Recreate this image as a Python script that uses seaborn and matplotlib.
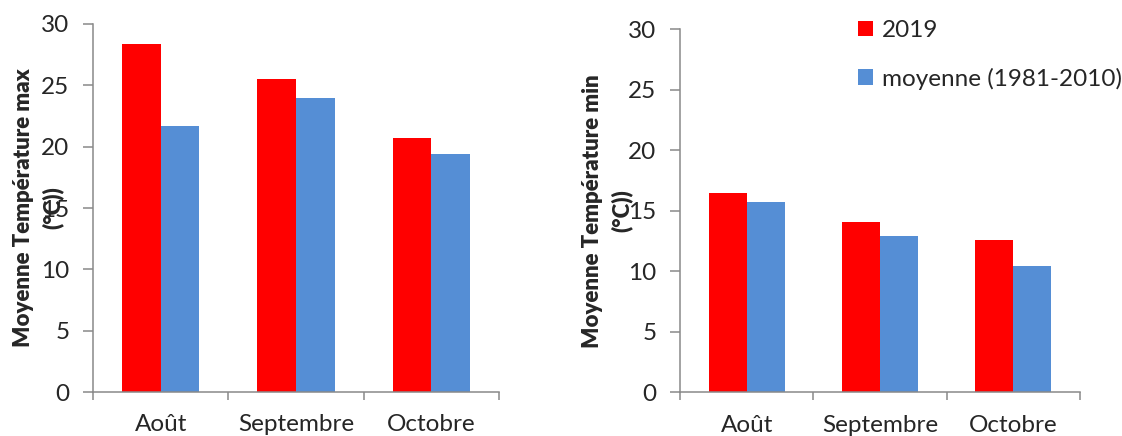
import matplotlib
matplotlib.use("Agg")
import matplotlib.pyplot as plt
import seaborn as sns
import pandas as pd

# Monthly mean temperatures (°C), 2019 vs 1981-2010 normal
mois = ["Août", "Septembre", "Octobre"]
series = ["2019", "moyenne (1981-2010)"]
tmax_2019 = [28.4, 25.5, 20.7]
tmax_normale = [21.7, 24.0, 19.4]
tmin_2019 = [16.5, 14.1, 12.6]
tmin_normale = [15.7, 12.9, 10.4]
yticks = [0, 5, 10, 15, 20, 25, 30]
couleurs = ["#FF0000", "#558ED5"]
gris = "#898989"
taille = 17.5


def tableau(v2019, vnorm):
    return pd.DataFrame({
        "mois": mois * 2,
        "série": [series[0]] * len(mois) + [series[1]] * len(mois),
        "valeur": v2019 + vnorm,
    })


sns.set_theme(style="white")
plt.rcParams["font.family"] = ["Lato", "DejaVu Sans"]

W, H = 1122, 436
fig = plt.figure(figsize=(W / 100, H / 100), dpi=100)


def axes_px(x0, y0, x1, y1):
    return fig.add_axes([x0 / W, 1 - y1 / H, (x1 - x0) / W, (y1 - y0) / H])


def panneau(ax, v2019, vnorm, titre_y, label_x, legende=False):
    sns.barplot(data=tableau(v2019, vnorm), x="mois", y="valeur", hue="série",
                palette=couleurs, saturation=1, width=0.57, linewidth=0,
                ax=ax, legend=legende)
    ax.set_ylim(0, 30)
    ax.set_xlim(-0.5, len(mois) - 0.5)
    ax.set_yticks(yticks)
    ax.set_yticklabels([str(t) for t in yticks], fontsize=taille)
    # boundaries between months carry the visible ticks, labels sit at centres
    ax.set_xticks([i - 0.5 for i in range(len(mois) + 1)])
    ax.set_xticklabels([])
    ax.set_xticks(range(len(mois)), minor=True)
    ax.set_xticklabels(mois, minor=True, fontsize=taille)
    ax.tick_params(axis="x", which="major", direction="out", length=6,
                   width=1.1, color=gris, bottom=True)
    ax.tick_params(axis="x", which="minor", length=0, pad=16, bottom=True)
    ax.tick_params(axis="y", direction="out", length=7, width=1.1,
                   color=gris, pad=10, left=True)
    for s in ("top", "right"):
        ax.spines[s].set_visible(False)
    for s in ("left", "bottom"):
        ax.spines[s].set_color(gris)
        ax.spines[s].set_linewidth(1.1)
    ax.set_xlabel("")
    ax.set_ylabel(titre_y, fontsize=16, fontweight="heavy", linespacing=1.45)
    ax.yaxis.set_label_coords(label_x, 0.5)


ax1 = axes_px(93, 24, 499, 392)
ax2 = axes_px(680, 29.3, 1080, 392.3)

panneau(ax1, tmax_2019, tmax_normale, "Moyenne Température max\n(°C))", -0.072)
panneau(ax2, tmin_2019, tmin_normale, "Moyenne Température min\n(°C))", -0.118,
        legende=True)

handles, labels = ax2.get_legend_handles_labels()
ax2.legend_.remove()
fig.legend(handles, labels, loc="upper left",
           bbox_to_anchor=(858 / W, 1 - 20 / H), frameon=False, fontsize=taille,
           handlelength=0.62, handleheight=0.62, handletextpad=0.35,
           labelspacing=1.1, borderpad=0, borderaxespad=0)

fig.savefig("out.png", dpi=100)
